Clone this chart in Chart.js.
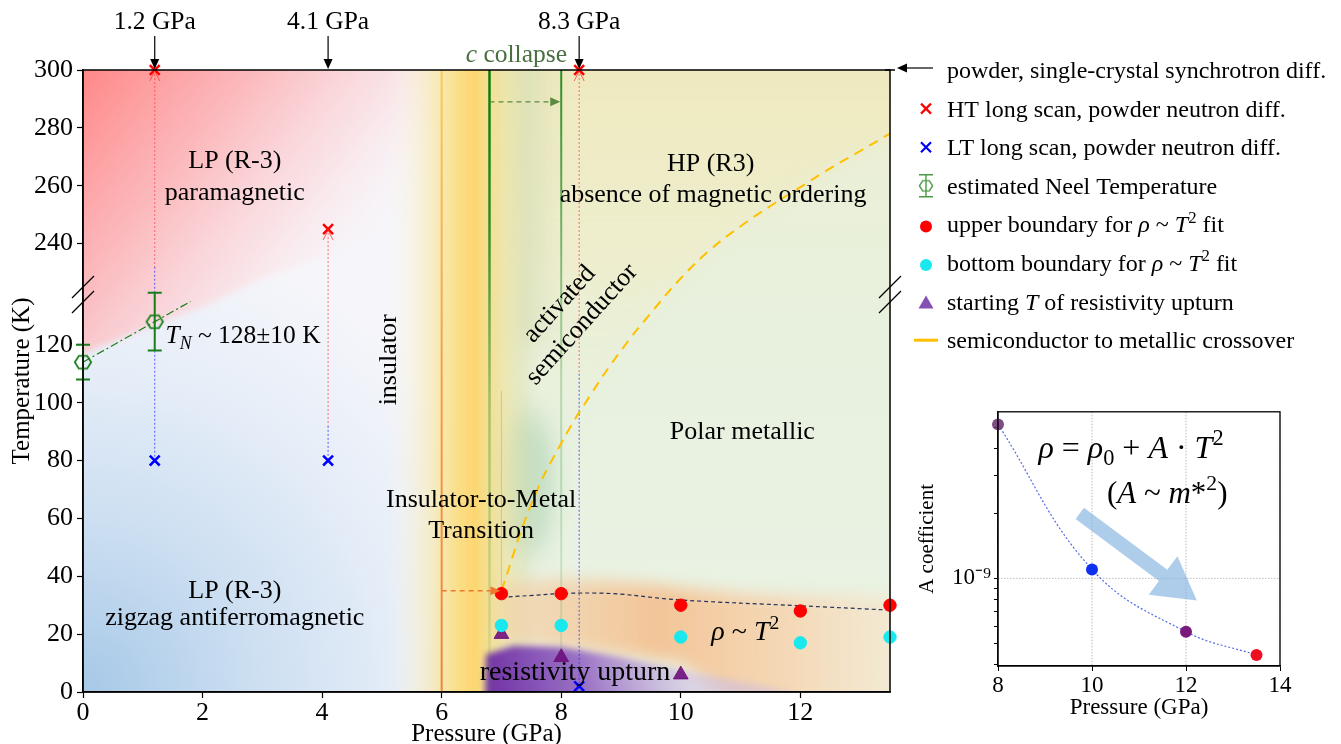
<!DOCTYPE html>
<html>
<head>
<meta charset="utf-8">
<script src="https://cdn.jsdelivr.net/npm/chart.js@4.4.0/dist/chart.umd.min.js"></script>
<style>
html, body { margin: 0; padding: 0; background: #fff; overflow: hidden; width: 1341px; height: 744px; }
#main { position: absolute; left: 0; top: 0; }
#inset { position: absolute; left: 900px; top: 395px; }
</style>
</head>
<body>
<canvas id="main" width="1341" height="760"></canvas>
<canvas id="inset" width="441" height="349"></canvas>
<script>
// ---- data ----
const pressureTicks = [0, 2, 4, 6, 8, 10, 12]
const tempTicks = [0, 20, 40, 60, 80, 100, 120, 240, 260, 280, 300]

// long neutron scans (HT start, LT end) and where the dotted guide changes colour
const scanPressure = [1.2, 4.1, 8.3]
const htScanTemp = [300, 245, 300]
const ltScanTemp = [80, 80, 2]
const scanJoinTemp = [232, 92, 110]

// Neel temperature estimates
const neelPressure = [0, 1.2]
const neelTemp = [114, 128]
const neelErr = [6, 10]
const neelFitPressure = [0, 1.8]
const neelFitTemp = [114, 135]

// rho ~ T^2 window and resistivity upturn
const fitPressure = [7, 8, 10, 12, 13.5]
const upperTemp = [34, 34, 30, 28, 30]
const bottomTemp = [23, 23, 19, 17, 19]
const upperGuidePressure = [7, 8.6, 10, 12, 13.5]
const upperGuideTemp = [32.8, 34.2, 31.8, 29.8, 28.3]
const upturnPressure = [7, 8, 10]
const upturnTemp = [20, 12, 6]

// semiconductor -> metal crossover
const crossPressure = [7, 7.5, 8, 8.5, 9, 9.5, 10, 10.5, 11, 11.5, 12, 12.5, 13, 13.5]
const crossTemp = [35, 65, 86, 103, 118, 131, 228, 238, 246, 253, 259.5, 266, 272, 278]

// structural markers
const collapsePressure = [6.8, 8.0]
const collapseArrowTemp = 289
const imtPressure = 6
const imtArrowTemp = 35
const imtGuideTemp = [35, 104]

// inset: A coefficient
const insetPressure = [8, 10, 12, 13.5]
const insetA = [5.16e-9, 1.10e-9, 5.66e-10, 4.42e-10]
const insetColors = ["rgba(105,45,110,0.85)", "#1030f0", "#7a1a7a", "#ee1020"]
const insetXTicks = [8, 10, 12, 14]
const insetYTicks = [4e-10, 5e-10, 6e-10, 7e-10, 8e-10, 9e-10, 1e-9, 2e-9, 3e-9, 4e-9, 5e-9]

// the temperature axis is broken: 222-300 K is slid down to sit on top of 0-137 K
const BREAK_SHIFT = 85
const BREAK_AT = 137.4
const disp = t => (t > 180 ? t - BREAK_SHIFT : t)
const pts = (ps, ts) => ps.map((p, i) => ({ x: p, y: disp(ts[i]) }))

const SERIF = "'Liberation Serif', 'Times New Roman', serif"
Chart.defaults.font.family = SERIF
Chart.defaults.font.size = 24
Chart.defaults.color = "#000"

const RED = "#ff0000"
const BLUE = "#0000ff"
const GREEN = "#1a7f1a"
const CYAN = "rgb(25,232,238)"
const PURPLE = "rgba(110,15,125,0.9)"
const GOLD = "#ffc000"

function fontStr(size, italic) {
    return (italic ? "italic " : "") + size + "px " + SERIF
}

// text with italic / sub / superscript pieces, y is the baseline
function drawRich(ctx, parts, x, y, size, align, color) {
    let w = 0
    parts.forEach(p => {
        ctx.font = fontStr(p.sub || p.sup ? size * 0.7 : size, p.i)
        w += ctx.measureText(p.t).width
    })
    let cx = align === "center" ? x - w / 2 : align === "right" ? x - w : x
    ctx.textAlign = "left"
    ctx.textBaseline = "alphabetic"
    ctx.fillStyle = color || "#000"
    parts.forEach(p => {
        ctx.font = fontStr(p.sub || p.sup ? size * 0.7 : size, p.i)
        const dy = p.sup ? -size * 0.4 : p.sub ? size * 0.22 : 0
        ctx.fillText(p.t, cx, y + dy)
        cx += ctx.measureText(p.t).width
    })
}

function arrowHead(ctx, x, y, ang, len, half) {
    ctx.beginPath()
    ctx.moveTo(x, y)
    ctx.lineTo(x - len * Math.cos(ang) + half * Math.sin(ang), y - len * Math.sin(ang) - half * Math.cos(ang))
    ctx.lineTo(x - len * Math.cos(ang) - half * Math.sin(ang), y - len * Math.sin(ang) + half * Math.cos(ang))
    ctx.closePath()
    ctx.fill()
}

function hexagon(size, color, lw) {
    const c = document.createElement("canvas")
    c.width = c.height = size
    const g = c.getContext("2d")
    g.strokeStyle = color
    g.lineWidth = lw
    const r = size / 2 - lw
    g.beginPath()
    for (let k = 0; k < 6; k++) {
        const a = Math.PI / 3 * k
        const px = size / 2 + r * Math.cos(a)
        const py = size / 2 + r * Math.sin(a) * 0.9
        k ? g.lineTo(px, py) : g.moveTo(px, py)
    }
    g.closePath()
    g.stroke()
    return c
}
const hexMark = hexagon(20, GREEN, 1.8)
const hexLegend = hexagon(16, "#4c9a46", 1.4)

function verticalGradient(chart, stops) {
    const a = chart.chartArea
    if (!a) return stops[0][1]
    const g = chart.ctx.createLinearGradient(0, a.bottom, 0, a.top)
    stops.forEach(s => g.addColorStop(s[0], s[1]))
    return g
}

// ---- soft coloured phase regions ----
const phaseBackground = {
    id: "phaseBackground",
    beforeDraw(chart) {
        const { ctx, chartArea: a, scales } = chart
        const X = p => scales.x.getPixelForValue(p)
        const Y = t => scales.y.getPixelForValue(disp(t))
        const poly = list => {
            ctx.beginPath()
            list.forEach(([p, t], i) => (i ? ctx.lineTo(X(p), Y(t)) : ctx.moveTo(X(p), Y(t))))
            ctx.closePath()
        }
        ctx.save()
        ctx.beginPath()
        ctx.rect(a.left, a.top, a.width, a.height)
        ctx.clip()

        // high pressure side: pale mint
        let g = ctx.createLinearGradient(0, a.top, 0, a.bottom)
        g.addColorStop(0, "rgb(236,238,210)")
        g.addColorStop(0.4, "rgb(232,241,222)")
        g.addColorStop(1, "rgb(234,243,229)")
        ctx.fillStyle = g
        ctx.fillRect(X(6.7), a.top, a.right - X(6.7), a.height)

        // above the crossover: pale yellow
        ctx.filter = "blur(7px)"
        poly([[6.9, 35], ...crossPressure.map((p, i) => [p, crossTemp[i]]), [14.5, 278], [14.5, 330], [6.9, 330]])
        g = ctx.createLinearGradient(0, Y(300), 0, Y(80))
        g.addColorStop(0, "rgba(238,233,190,1)")
        g.addColorStop(0.5, "rgba(238,237,204,0.85)")
        g.addColorStop(1, "rgba(232,240,218,0)")
        ctx.fillStyle = g
        ctx.fill()
        ctx.filter = "none"

        // low pressure, low temperature: blue
        g = ctx.createRadialGradient(X(0), Y(0), 0, X(0), Y(0), 470)
        g.addColorStop(0, "rgb(166,200,231)")
        g.addColorStop(0.35, "rgb(203,222,241)")
        g.addColorStop(0.7, "rgb(231,238,248)")
        g.addColorStop(1, "rgb(246,246,250)")
        ctx.fillStyle = g
        ctx.fillRect(a.left, a.top, X(6.3) - a.left, a.height)

        // paramagnetic: red
        ctx.filter = "blur(3px)"
        poly([[-0.5, 112], [0, 117], [1.2, 127], [2, 133], [3, 228], [4, 235], [5.8, 250], [5.8, 330], [-0.5, 330]])
        g = ctx.createLinearGradient(X(0), Y(300), X(4.6), Y(225))
        g.addColorStop(0, "rgba(255,136,136,1)")
        g.addColorStop(0.4, "rgba(251,184,188,0.95)")
        g.addColorStop(0.75, "rgba(250,226,230,0.75)")
        g.addColorStop(1, "rgba(250,246,248,0)")
        ctx.fillStyle = g
        ctx.fill()
        ctx.filter = "none"

        // green shade just past the transition
        ctx.filter = "blur(12px)"
        ctx.fillStyle = "rgba(160,204,168,0.6)"
        ctx.beginPath()
        ctx.ellipse(X(7.4), Y(72), 26, 75, 0, 0, Math.PI * 2)
        ctx.fill()
        ctx.fillStyle = "rgba(196,208,160,0.45)"
        ctx.fillRect(X(7.25), Y(300) - 20, X(7.65) - X(7.25), Y(120) - Y(300) + 20)
        ctx.filter = "none"

        // insulator-to-metal band: yellow
        const b0 = 5.1, b1 = 7.7
        g = ctx.createLinearGradient(X(b0), 0, X(b1), 0)
        const bs = p => (p - b0) / (b1 - b0)
        g.addColorStop(bs(5.1), "rgba(250,246,235,0)")
        g.addColorStop(bs(5.6), "rgba(248,238,202,0.55)")
        g.addColorStop(bs(5.95), "rgba(248,230,165,0.8)")
        g.addColorStop(bs(6.3), "rgba(251,220,126,0.95)")
        g.addColorStop(bs(6.55), "rgba(252,214,112,1)")
        g.addColorStop(bs(6.8), "rgba(244,222,140,0.9)")
        g.addColorStop(bs(7.1), "rgba(236,228,166,0.7)")
        g.addColorStop(bs(7.4), "rgba(222,226,182,0.45)")
        g.addColorStop(bs(7.7), "rgba(230,238,215,0)")
        ctx.fillStyle = g
        ctx.fillRect(X(b0), a.top, X(b1) - X(b0), a.height)

        // rho ~ T^2 window: orange
        ctx.filter = "blur(8px)"
        poly([[6.95, 38], [8, 39], [9, 38], [10, 36], [11, 34], [12, 33], [14.5, 33], [14.5, -5], [11, -5], [10, 10], [9, 13], [8, 15], [6.95, 17]])
        g = ctx.createLinearGradient(X(7), 0, X(13.5), 0)
        g.addColorStop(0, "rgba(245,205,160,0.55)")
        g.addColorStop(0.4, "rgba(244,190,140,0.88)")
        g.addColorStop(0.75, "rgba(247,208,168,0.75)")
        g.addColorStop(1, "rgba(250,226,196,0.55)")
        ctx.fillStyle = g
        ctx.fill()
        ctx.filter = "none"

        // resistivity upturn: purple
        ctx.filter = "blur(3px)"
        poly([[6.72, -5], [6.74, 13], [7.2, 16], [8, 15.5], [9, 12], [10, 7.5], [11, 3.5], [11.8, 0], [12.2, -5]])
        g = ctx.createLinearGradient(X(7), Y(0), X(10), Y(16))
        g.addColorStop(0, "rgba(112,48,168,0.95)")
        g.addColorStop(0.45, "rgba(140,92,192,0.85)")
        g.addColorStop(1, "rgba(205,188,228,0.55)")
        ctx.fillStyle = g
        ctx.fill()
        ctx.filter = "none"

        ctx.restore()
    }
}

// ---- arrows, labels, break marks, legend ----
const legendRows = [
    { kind: "arrow", parts: [{ t: "powder, single-crystal synchrotron diff." }] },
    { kind: "xred", parts: [{ t: "HT long scan, powder neutron diff." }] },
    { kind: "xblue", parts: [{ t: "LT long scan, powder neutron diff." }] },
    { kind: "neel", parts: [{ t: "estimated Neel Temperature" }] },
    { kind: "dotred", parts: [{ t: "upper boundary for " }, { t: "ρ", i: 1 }, { t: " ~ " }, { t: "T", i: 1 }, { t: "2", sup: 1 }, { t: " fit" }] },
    { kind: "dotcyan", parts: [{ t: "bottom boundary for " }, { t: "ρ", i: 1 }, { t: " ~ " }, { t: "T", i: 1 }, { t: "2", sup: 1 }, { t: " fit" }] },
    { kind: "tri", parts: [{ t: "starting " }, { t: "T", i: 1 }, { t: " of resistivity upturn" }] },
    { kind: "gold", parts: [{ t: "semiconductor to metallic crossover" }] }
]

const regionLabels = [
    { p: 2.54, t: 266, parts: [{ t: "LP (R-3)" }] },
    { p: 2.54, t: 255, parts: [{ t: "paramagnetic" }] },
    { p: 10.5, t: 265, parts: [{ t: "HP (R3)" }] },
    { p: 10.54, t: 254.5, parts: [{ t: "absence of magnetic ordering" }] },
    { p: 11.03, t: 87.5, parts: [{ t: "Polar metallic" }] },
    { p: 6.66, t: 64, parts: [{ t: "Insulator-to-Metal" }] },
    { p: 6.66, t: 53.3, parts: [{ t: "Transition" }] },
    { p: 2.54, t: 32.5, parts: [{ t: "LP (R-3)" }] },
    { p: 2.54, t: 23, parts: [{ t: "zigzag antiferromagnetic" }] },
    { p: 11.08, t: 18, parts: [{ t: "ρ", i: 1 }, { t: " ~ " }, { t: "T", i: 1 }, { t: "2", sup: 1 }], size: 28 },
    { p: 8.23, t: 4, parts: [{ t: "resistivity upturn" }], size: 28 }
]

const overlay = {
    id: "overlay",
    afterDraw(chart) {
        const { ctx, chartArea: a, scales } = chart
        const X = p => scales.x.getPixelForValue(p)
        const Y = t => scales.y.getPixelForValue(disp(t))
        ctx.save()

        // Neel error bars
        ctx.strokeStyle = GREEN
        ctx.lineWidth = 2
        neelPressure.forEach((p, i) => {
            const x = X(p), y0 = Y(neelTemp[i] - neelErr[i]), y1 = Y(neelTemp[i] + neelErr[i])
            ctx.beginPath()
            ctx.moveTo(x, y0); ctx.lineTo(x, y1)
            ctx.moveTo(x - 7, y0); ctx.lineTo(x + 7, y0)
            ctx.moveTo(x - 7, y1); ctx.lineTo(x + 7, y1)
            ctx.stroke()
        })

        // open chevrons at the top of every long scan
        ctx.strokeStyle = "rgba(255,60,60,0.8)"
        ctx.lineWidth = 1
        scanPressure.forEach((p, i) => {
            const x = X(p), y = Y(htScanTemp[i]) + 1
            ctx.beginPath()
            ctx.moveTo(x - 5, y + 10); ctx.lineTo(x, y); ctx.lineTo(x + 5, y + 10)
            ctx.stroke()
        })

        // c collapse arrow
        ctx.setLineDash([5, 4])
        ctx.strokeStyle = "#5a8a40"
        ctx.fillStyle = "#5a8a40"
        ctx.lineWidth = 1.3
        let yA = Y(collapseArrowTemp)
        ctx.beginPath()
        ctx.moveTo(X(collapsePressure[0]), yA); ctx.lineTo(X(collapsePressure[1]) - 8, yA)
        ctx.stroke()
        ctx.setLineDash([])
        arrowHead(ctx, X(collapsePressure[1]) - 1, yA, 0, 10, 4.5)

        // IMT arrow
        ctx.setLineDash([5, 4])
        ctx.strokeStyle = "#f07830"
        ctx.fillStyle = "#f07830"
        yA = Y(imtArrowTemp)
        ctx.beginPath()
        ctx.moveTo(X(imtPressure), yA); ctx.lineTo(X(7) - 10, yA)
        ctx.stroke()
        ctx.setLineDash([])
        arrowHead(ctx, X(7) - 1, yA, 0, 10, 4.5)

        // frame
        ctx.strokeStyle = "#000"
        ctx.lineWidth = 1.5
        ctx.strokeRect(a.left, a.top, a.width, a.height)
        ctx.beginPath()
        ctx.moveTo(a.right - 5, a.top); ctx.lineTo(a.right + 5, a.top)
        ctx.stroke()

        // axis break marks on both spines
        ctx.lineWidth = 1.2
        const yb = scales.y.getPixelForValue(BREAK_AT)
        ;[a.left, a.right].forEach(x => {
            ;[-7.5, 7.5].forEach(off => {
                ctx.beginPath()
                ctx.moveTo(x - 11, yb + off + 11); ctx.lineTo(x + 11, yb + off - 11)
                ctx.stroke()
            })
        })

        // pressures of the long scans, marked above the frame
        ctx.fillStyle = "#000"
        scanPressure.forEach(p => {
            const x = X(p)
            drawRich(ctx, [{ t: p.toFixed(1) + " GPa" }], x, a.top - 41, 25.5, "center")
            ctx.beginPath()
            ctx.moveTo(x, a.top - 34); ctx.lineTo(x, a.top - 8)
            ctx.stroke()
            arrowHead(ctx, x, a.top - 1, Math.PI / 2, 10, 4.5)
        })
        drawRich(ctx, [{ t: "c", i: 1 }, { t: " collapse" }], X(7.25), a.top - 8, 25.5, "center", "#4a7040")

        // region labels
        regionLabels.forEach(l => drawRich(ctx, l.parts, X(l.p), Y(l.t), l.size || 26, "center"))
        drawRich(ctx, [{ t: "T", i: 1 }, { t: "N", i: 1, sub: 1 }, { t: " ~ 128±10 K" }], X(1.38), Y(120.5), 25.5, "left")

        ctx.font = fontStr(26)
        ctx.textAlign = "center"
        ctx.textBaseline = "middle"
        ctx.save()
        ctx.translate(X(5.12), Y(114.8))
        ctx.rotate(-Math.PI / 2)
        ctx.fillText("insulator", 0, 0)
        ctx.restore()
        ctx.save()
        ctx.translate(X(8.16), Y(130.5))
        ctx.rotate(-48 * Math.PI / 180)
        ctx.fillText("activated", 0, -15)
        ctx.fillText("semiconductor", 0, 15)
        ctx.restore()

        // legend to the right of the frame
        const mx = a.right + 36, tx = a.right + 57
        legendRows.forEach((row, i) => {
            const my = a.top + i * 38.6
            ctx.lineWidth = 2
            if (row.kind === "arrow") {
                ctx.strokeStyle = "#000"; ctx.fillStyle = "#000"; ctx.lineWidth = 1.2
                ctx.beginPath(); ctx.moveTo(mx + 7, my - 2); ctx.lineTo(a.right + 14, my - 2); ctx.stroke()
                arrowHead(ctx, a.right + 7, my - 2, Math.PI, 10, 4.5)
            } else if (row.kind === "xred" || row.kind === "xblue") {
                ctx.strokeStyle = row.kind === "xred" ? RED : BLUE; ctx.lineWidth = 2.2
                ctx.beginPath()
                ctx.moveTo(mx - 5, my - 5); ctx.lineTo(mx + 5, my + 5)
                ctx.moveTo(mx - 5, my + 5); ctx.lineTo(mx + 5, my - 5)
                ctx.stroke()
            } else if (row.kind === "neel") {
                ctx.strokeStyle = "#4c9a46"; ctx.lineWidth = 1.4
                ctx.beginPath()
                ctx.moveTo(mx, my - 11); ctx.lineTo(mx, my + 11)
                ctx.moveTo(mx - 7, my - 11); ctx.lineTo(mx + 7, my - 11)
                ctx.moveTo(mx - 7, my + 11); ctx.lineTo(mx + 7, my + 11)
                ctx.stroke()
                ctx.drawImage(hexLegend, mx - 8, my - 8)
            } else if (row.kind === "dotred" || row.kind === "dotcyan") {
                ctx.fillStyle = row.kind === "dotred" ? RED : CYAN
                ctx.beginPath(); ctx.arc(mx, my + 2, 6, 0, Math.PI * 2); ctx.fill()
            } else if (row.kind === "tri") {
                ctx.fillStyle = "rgba(128,70,176,0.95)"
                ctx.beginPath(); ctx.moveTo(mx, my - 6); ctx.lineTo(mx + 7.5, my + 7); ctx.lineTo(mx - 7.5, my + 7); ctx.closePath(); ctx.fill()
            } else if (row.kind === "gold") {
                ctx.strokeStyle = GOLD; ctx.lineWidth = 3
                ctx.beginPath(); ctx.moveTo(mx - 12, my); ctx.lineTo(mx + 12, my); ctx.stroke()
            }
            drawRich(ctx, row.parts, tx, my + 8, 24, "left")
        })
        ctx.restore()
    }
}

// ---- datasets ----
const markerSets = [
    { data: pts(scanPressure, htScanTemp), pointStyle: "crossRot", pointRadius: 7, borderColor: RED, borderWidth: 2.5 },
    { data: pts(scanPressure, ltScanTemp), pointStyle: "crossRot", pointRadius: 7, borderColor: BLUE, borderWidth: 2.5 },
    { data: pts(neelPressure, neelTemp), pointStyle: hexMark },
    { data: pts(fitPressure, upperTemp), pointRadius: 6.2, backgroundColor: RED, borderColor: RED, borderWidth: 1 },
    { data: pts(fitPressure, bottomTemp), pointRadius: 6.2, backgroundColor: CYAN, borderColor: CYAN, borderWidth: 1 },
    { data: pts(upturnPressure, upturnTemp), pointStyle: "triangle", pointRadius: 8.5, backgroundColor: PURPLE, borderColor: PURPLE, borderWidth: 1 }
].map(d => Object.assign({ showLine: false, clip: false }, d))

const lineSets = [
    { data: pts(crossPressure, crossTemp), borderColor: GOLD, borderWidth: 2, borderDash: [10, 7], tension: 0.45 },
    { data: pts(upperGuidePressure, upperGuideTemp), borderColor: "#22305a", borderWidth: 1.2, borderDash: [4, 3], tension: 0.4 },
    { data: pts(neelFitPressure, neelFitTemp), borderColor: GREEN, borderWidth: 1.2, borderDash: [8, 3, 2, 3] },
    { data: pts([imtPressure, imtPressure], [0, 300]), borderWidth: 2,
      borderColor: c => verticalGradient(c.chart, [[0, "#f08236"], [0.5, "#f5a040"], [1, "#f8cc55"]]) },
    { data: pts([7, 7], imtGuideTemp), borderColor: "rgba(245,190,60,0.9)", borderWidth: 1 }
]
collapsePressure.forEach((p, i) => {
    lineSets.push({
        data: pts([p, p], [0, 300]), borderWidth: i ? 2 : 2.5,
        borderColor: c => verticalGradient(c.chart, i
            ? [[0, "rgba(60,150,60,0.12)"], [0.5, "rgba(60,150,60,0.3)"], [0.8, "rgba(40,140,40,0.7)"], [1, "rgba(20,130,20,0.9)"]]
            : [[0, "rgba(30,130,30,0.08)"], [0.45, "rgba(30,130,30,0.35)"], [0.75, "rgba(20,125,20,0.85)"], [1, "rgba(10,120,10,1)"]])
    })
})
scanPressure.forEach((p, i) => {
    lineSets.push({ data: pts([p, p], [htScanTemp[i], scanJoinTemp[i]]), borderColor: "rgba(255,70,70,0.75)", borderWidth: 1, borderDash: [2, 2] })
    lineSets.push({ data: pts([p, p], [scanJoinTemp[i], ltScanTemp[i]]), borderColor: "rgba(40,40,255,0.75)", borderWidth: 1, borderDash: [2, 2] })
})
lineSets.forEach(d => Object.assign(d, { showLine: true, pointRadius: 0, fill: false }))

new Chart(document.getElementById("main"), {
    type: "scatter",
    data: { datasets: markerSets.concat(lineSets) },
    options: {
        responsive: false,
        animation: false,
        events: [],
        layout: { padding: { left: 0, right: 451, top: 70, bottom: 0 } },
        plugins: { legend: { display: false }, tooltip: { enabled: false } },
        scales: {
            x: {
                type: "linear", min: 0, max: 13.5,
                afterFit: s => { s.height = 68 },
                afterBuildTicks: s => { s.ticks = pressureTicks.map(v => ({ value: v })) },
                ticks: { autoSkip: false, maxRotation: 0, padding: 0, font: { size: 26 } },
                grid: { drawOnChartArea: false, tickLength: 6, tickColor: "#000", tickWidth: 1.2 },
                border: { color: "#000", width: 1.5 },
                title: { display: true, text: "Pressure (GPa)", font: { size: 25 }, padding: { top: 0, bottom: 11 } }
            },
            y: {
                type: "linear", min: 0, max: disp(300),
                afterFit: s => { s.width = 83 },
                afterBuildTicks: s => { s.ticks = tempTicks.map(t => ({ value: disp(t) })) },
                ticks: { autoSkip: false, padding: 4, font: { size: 26 }, callback: (v, i) => String(tempTicks[i]) },
                grid: { drawOnChartArea: false, tickLength: 6, tickColor: "#000", tickWidth: 1.2 },
                border: { color: "#000", width: 1.5 },
                title: { display: true, text: "Temperature (K)", font: { size: 25 }, padding: { top: 7, bottom: 0 } }
            }
        }
    },
    plugins: [phaseBackground, overlay]
})

// ---- inset: A coefficient vs pressure ----
const insetDecor = {
    id: "insetDecor",
    beforeDatasetsDraw(chart) {
        const { ctx, chartArea: a, scales } = chart
        ctx.save()
        ctx.strokeStyle = "rgba(150,150,150,0.8)"
        ctx.lineWidth = 0.8
        ctx.setLineDash([1.5, 1.5])
        insetXTicks.forEach(v => {
            const x = scales.x.getPixelForValue(v)
            ctx.beginPath(); ctx.moveTo(x, a.top); ctx.lineTo(x, a.bottom); ctx.stroke()
        })
        const y = scales.y.getPixelForValue(1e-9)
        ctx.beginPath(); ctx.moveTo(a.left, y); ctx.lineTo(a.right, y); ctx.stroke()
        ctx.restore()
    },
    afterDatasetsDraw(chart) {
        const { ctx, scales } = chart
        const X = v => scales.x.getPixelForValue(v)
        const Y = v => scales.y.getPixelForValue(v)
        // broad "A decreases" arrow
        const sx = X(9.74), sy = Y(2.0e-9), ex = X(12.23), ey = Y(7.9e-10)
        const len = Math.hypot(ex - sx, ey - sy)
        const ux = (ex - sx) / len, uy = (ey - sy) / len, nx = -uy, ny = ux
        const bx = ex - ux * 42, by = ey - uy * 42
        ctx.save()
        ctx.fillStyle = "rgba(135,182,226,0.68)"
        ctx.beginPath()
        ctx.moveTo(sx + nx * 7, sy + ny * 7)
        ctx.lineTo(bx + nx * 7, by + ny * 7)
        ctx.lineTo(bx + nx * 24, by + ny * 24)
        ctx.lineTo(ex, ey)
        ctx.lineTo(bx - nx * 24, by - ny * 24)
        ctx.lineTo(bx - nx * 7, by - ny * 7)
        ctx.lineTo(sx - nx * 7, sy - ny * 7)
        ctx.closePath()
        ctx.fill()
        ctx.restore()
    },
    afterDraw(chart) {
        const { ctx, chartArea: a, scales } = chart
        const X = v => scales.x.getPixelForValue(v)
        const Y = v => scales.y.getPixelForValue(v)
        ctx.save()
        ctx.strokeStyle = "#000"
        ctx.lineWidth = 1.3
        ctx.strokeRect(a.left, a.top, a.width, a.height)
        drawRich(ctx, [{ t: "ρ", i: 1 }, { t: " = " }, { t: "ρ", i: 1 }, { t: "0", sub: 1 }, { t: " + " }, { t: "A", i: 1 }, { t: " · " }, { t: "T", i: 1 }, { t: "2", sup: 1 }],
            X(10.83), Y(3.61e-9), 32, "center")
        drawRich(ctx, [{ t: "(" }, { t: "A", i: 1 }, { t: " ~ " }, { t: "m", i: 1 }, { t: "*" }, { t: "2", sup: 1 }, { t: ")" }],
            X(11.6), Y(2.24e-9), 31, "center")
        ctx.restore()
    }
}

new Chart(document.getElementById("inset"), {
    type: "scatter",
    data: {
        datasets: [{
            data: insetPressure.map((p, i) => ({ x: p, y: insetA[i] })),
            showLine: true,
            clip: false,
            borderColor: "rgba(50,80,230,0.85)",
            borderWidth: 1.2,
            borderDash: [2, 2],
            tension: 0.4,
            pointRadius: 6,
            pointBorderWidth: 0,
            pointBackgroundColor: insetColors
        }]
    },
    options: {
        responsive: false,
        animation: false,
        events: [],
        layout: { padding: { left: 0, right: 61, top: 16, bottom: 0 } },
        plugins: { legend: { display: false }, tooltip: { enabled: false } },
        scales: {
            x: {
                type: "linear", min: 8, max: 14,
                afterFit: s => { s.height = 78 },
                afterBuildTicks: s => { s.ticks = insetXTicks.map(v => ({ value: v })) },
                ticks: { autoSkip: false, maxRotation: 0, padding: 1, font: { size: 23 } },
                grid: { drawOnChartArea: false, tickLength: 5, tickColor: "#000" },
                border: { color: "#000", width: 1.3 },
                title: { display: true, text: "Pressure (GPa)", font: { size: 23 }, padding: { top: 0, bottom: 22 } }
            },
            y: {
                type: "logarithmic", min: 3.93e-10, max: 5.9e-9,
                afterFit: s => { s.width = 98 },
                afterBuildTicks: s => { s.ticks = insetYTicks.map(v => ({ value: v })) },
                ticks: { autoSkip: false, padding: 3, font: { size: 23 }, callback: v => (Math.abs(v - 1e-9) < 1e-12 ? "10⁻⁹" : "") },
                grid: { drawOnChartArea: false, tickLength: 4, tickColor: "#000" },
                border: { color: "#000", width: 1.3 },
                title: { display: true, text: "A coefficient", font: { size: 21 }, padding: { top: 15, bottom: 0 } }
            }
        }
    },
    plugins: [insetDecor]
})
</script>
</body>
</html>
